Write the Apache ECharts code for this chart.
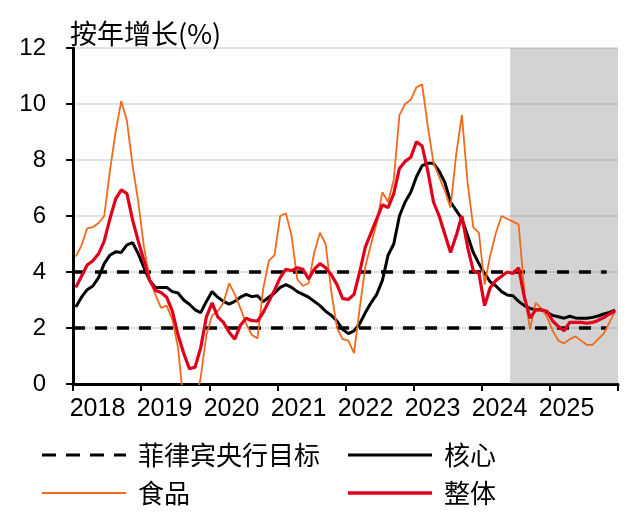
<!DOCTYPE html>
<html>
<head>
<meta charset="utf-8">
<script src="https://cdn.jsdelivr.net/npm/echarts@6/dist/echarts.min.js"></script>
<style>
html, body { margin: 0; padding: 0; background: #fff; }
#chart { width: 640px; height: 515px; }
</style>
</head>
<body>
<div id="chart"></div>
<script>
// 年份（每年12个月，2018年1月 - 2025年12月）
var years = ['2018', '2019', '2020', '2021', '2022', '2023', '2024', '2025'];

// 整体 CPI 按年增长
var headline = [
    3.45, 3.85, 4.25, 4.4, 4.65, 5.1, 5.9, 6.6, 6.93, 6.8, 5.85, 5.1,
    4.4, 3.7, 3.35, 3.27, 3.1, 2.6, 1.75, 1.1, 0.55, 0.6, 1.3, 2.4,
    2.9, 2.4, 2.2, 1.85, 1.6, 2.1, 2.35, 2.26, 2.25, 2.55, 2.95, 3.35,
    3.8, 4.1, 4.05, 4.15, 4.1, 3.75, 4.1, 4.3, 4.15, 3.9, 3.55, 3.05,
    3.02, 3.2, 4.0, 4.9, 5.4, 5.9, 6.4, 6.3, 6.8, 7.7, 7.95, 8.1,
    8.65, 8.5, 7.6, 6.5, 6.0, 5.35, 4.7, 5.3, 6.0, 4.9, 4.05, 3.95,
    2.8, 3.45, 3.7, 3.85, 4.0, 3.95, 4.15, 3.1, 2.35, 2.65, 2.65, 2.6,
    2.25, 2.05, 1.9, 2.2, 2.2, 2.2, 2.17, 2.2, 2.27, 2.37, 2.5, 2.62
];

// 核心
var core = [
    2.75, 3.1, 3.37, 3.5, 3.8, 4.3, 4.6, 4.72, 4.7, 4.97, 5.05, 4.65,
    4.15, 3.7, 3.45, 3.45, 3.45, 3.3, 3.25, 3.0, 2.85, 2.65, 2.55, 2.95,
    3.3, 3.1, 2.95, 2.85, 2.95, 3.1, 3.2, 3.12, 3.15, 2.94, 3.1, 3.25,
    3.45, 3.55, 3.45, 3.3, 3.2, 3.1, 2.95, 2.8, 2.6, 2.45, 2.25, 1.95,
    1.8, 1.9, 2.15, 2.55, 2.9, 3.2, 3.7, 4.6, 5.0, 6.0, 6.5, 6.85,
    7.4, 7.8, 7.88, 7.88, 7.6, 7.2, 6.5, 6.2, 5.9, 5.3, 4.7, 4.3,
    3.95, 3.65, 3.5, 3.3, 3.18, 3.15, 2.95, 2.8, 2.7, 2.65, 2.65, 2.55,
    2.45, 2.4, 2.35, 2.42, 2.36, 2.35, 2.35, 2.38, 2.43, 2.5, 2.56, 2.64
];

// 食品
var food = [
    4.55, 4.95, 5.56, 5.6, 5.75, 6.0, 7.6, 9.0, 10.1, 9.4, 7.8, 6.5,
    4.9, 3.75, 3.2, 2.72, 2.8, 2.3, 1.3, -0.7, -1.2, -0.8, 0.25, 1.75,
    2.45, 2.6, 2.9, 3.6, 3.2, 2.7, 2.15, 1.75, 1.63, 3.4, 4.4, 4.6,
    6.0, 6.1, 5.3, 3.75, 3.5, 3.6, 4.7, 5.4, 5.0, 3.3, 2.0, 1.6,
    1.55, 1.1, 2.7, 4.2, 5.0, 5.75, 6.85, 6.5, 7.3, 9.6, 10.0, 10.15,
    10.6, 10.7, 9.2, 7.9, 7.4, 6.9, 6.3, 8.2, 9.6, 7.2, 5.6, 5.4,
    3.55, 4.6, 5.4, 6.0, 5.9, 5.8, 5.7, 3.3, 1.95, 2.9, 2.7, 2.4,
    1.9, 1.55, 1.45, 1.6, 1.7, 1.55, 1.4, 1.4, 1.6, 1.8, 2.2, 2.6
];

// 菲律宾央行目标区间
var targetUpper = 4;
var targetLower = 2;
var targetEnd = 94;   // 虚线终点（月）
var shadeFrom = 77;   // 预测期阴影起点（月）
var monthCount = 96;

function toPoints(arr) {
    // 数据点位于每个月份区间的中心
    return arr.map(function (v, i) { return [i + 0.5, v]; });
}

var cjk = '"Noto Sans CJK SC", sans-serif';
var latin = '"Liberation Sans", Arial, sans-serif';

var dashIcon = 'path://M0,0H14V3H0Z M24,0H38V3H24Z M48,0H62V3H48Z M72,0H84V3H72Z';

function legendItem(name, icon, height, left, top) {
    return {
        data: [name],
        icon: icon,
        left: left,
        top: top,
        padding: 0,
        itemWidth: 84,
        itemHeight: height,
        selectedMode: false,
        textStyle: { fontSize: 26, color: '#000', fontFamily: cjk, padding: [18, 0, 0, 7] }
    };
}

var myChart = echarts.init(document.getElementById('chart'));
myChart.setOption({
    animation: false,
    backgroundColor: '#fff',
    title: {
        text: '按年增长(%)',
        left: 65,
        top: 15,
        textStyle: { fontSize: 27, fontWeight: 'normal', color: '#000', fontFamily: cjk }
    },
    legend: [
        legendItem('菲律宾央行目标', dashIcon, 3.5, 42, 442),
        legendItem('核心', 'rect', 3, 348, 442),
        legendItem('食品', 'rect', 2, 42, 480),
        legendItem('整体', 'rect', 3.5, 348, 480)
    ],
    grid: [{
        left: 73,
        right: 22,
        top: 48,
        bottom: 131,
        containLabel: false
    }, {
        // 年份标签所用的网格（标签间距略小于刻度间距）
        left: 64,
        right: 40,
        top: 48,
        bottom: 131,
        containLabel: false
    }],
    xAxis: [{
        type: 'value',
        gridIndex: 0,
        min: 0,
        max: monthCount,
        interval: 12,
        axisLine: { show: true, lineStyle: { color: '#000', width: 3 } },
        axisTick: { show: true, length: 7, lineStyle: { color: '#000', width: 2 } },
        axisLabel: { show: false },
        splitLine: { show: false }
    }, {
        type: 'category',
        gridIndex: 1,
        position: 'bottom',
        data: years,
        boundaryGap: true,
        axisLine: { show: false },
        axisTick: { show: false },
        axisLabel: { interval: 0, hideOverlap: false, fontSize: 25, color: '#000', fontFamily: latin, margin: 13 },
        splitLine: { show: false }
    }],
    yAxis: [{
        type: 'value',
        gridIndex: 0,
        min: 0,
        max: 12,
        interval: 2,
        axisLine: { show: true, lineStyle: { color: '#000', width: 3 } },
        axisTick: { show: true, length: 7, lineStyle: { color: '#000', width: 2 } },
        axisLabel: { fontSize: 24, color: '#000', fontFamily: latin, margin: 27 },
        splitLine: { show: true, lineStyle: { color: '#d9d9d9', width: 1.5 } }
    }, {
        type: 'value',
        gridIndex: 1,
        show: false
    }],
    series: [
        {
            name: '菲律宾央行目标',
            type: 'line',
            symbol: 'none',
            data: [[0, targetUpper], [targetEnd, targetUpper]],
            lineStyle: { color: '#000', width: 3.5, type: [12, 10] },
            itemStyle: { color: '#000' },
            markArea: {
                silent: true,
                itemStyle: { color: 'rgba(120,120,120,0.33)' },
                data: [[{ xAxis: shadeFrom }, { xAxis: monthCount }]]
            }
        },
        {
            name: '菲律宾央行目标',
            type: 'line',
            symbol: 'none',
            data: [[0, targetLower], [targetEnd, targetLower]],
            lineStyle: { color: '#000', width: 3.5, type: [12, 10] },
            itemStyle: { color: '#000' }
        },
        {
            name: '核心',
            type: 'line',
            symbol: 'none',
            data: toPoints(core),
            lineStyle: { color: '#000', width: 3 },
            itemStyle: { color: '#000' }
        },
        {
            name: '食品',
            type: 'line',
            symbol: 'none',
            data: toPoints(food),
            lineStyle: { color: '#EF6A1C', width: 1.8 },
            itemStyle: { color: '#EF6A1C' }
        },
        {
            name: '整体',
            type: 'line',
            symbol: 'none',
            data: toPoints(headline),
            lineStyle: { color: '#E0001B', width: 3.2 },
            itemStyle: { color: '#E0001B' }
        }
    ]
});
</script>
</body>
</html>
